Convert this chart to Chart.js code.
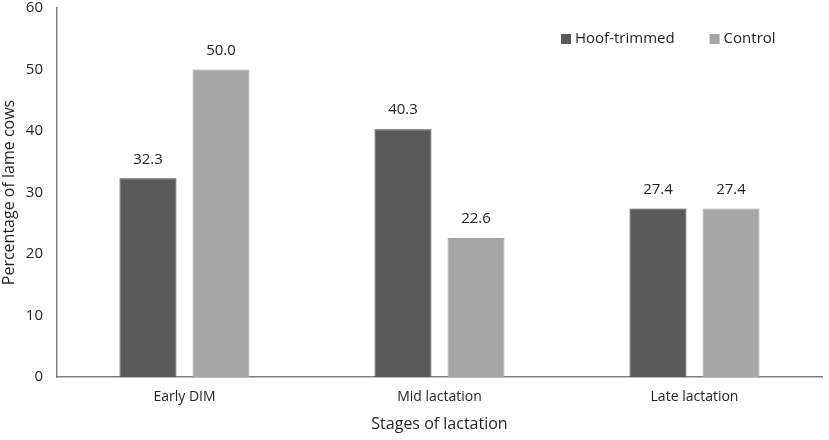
<!DOCTYPE html>
<html>
<head>
<meta charset="utf-8">
<script src="https://cdn.jsdelivr.net/npm/chart.js@4"></script>
<style>
  html, body { margin: 0; padding: 0; background: #fff; overflow: hidden; }
  #wrap { width: 829px; height: 455px; margin-top: -15px; }
</style>
</head>
<body>
<div id="wrap"><canvas id="chart"></canvas></div>
<script>
const stages = ["Early DIM", "Mid lactation", "Late lactation"];
const hoofTrimmed = [32.3, 40.3, 27.4];
const control = [50.0, 22.6, 27.4];
const yTicks = [0, 10, 20, 30, 40, 50, 60];

const FONT = "'Open Sans', 'Liberation Sans', sans-serif";
const DARK = "#595959";
const LIGHT = "#a6a6a6";

// value labels above each bar
const barLabels = {
  id: "barLabels",
  afterDatasetsDraw(chart) {
    const ctx = chart.ctx;
    ctx.save();
    ctx.font = "15px " + FONT;
    ctx.fillStyle = "#1f1f1f";
    ctx.textAlign = "center";
    ctx.textBaseline = "middle";
    chart.data.datasets.forEach((ds, i) => {
      chart.getDatasetMeta(i).data.forEach((bar, j) => {
        ctx.fillText(ds.data[j].toFixed(1), bar.x, bar.y - 19);
      });
    });
    ctx.restore();
  }
};

// legend in the top right corner of the plot
const cornerLegend = {
  id: "cornerLegend",
  afterDraw(chart) {
    const ctx = chart.ctx;
    ctx.save();
    ctx.font = "15px " + FONT;
    ctx.textBaseline = "middle";
    const y = chart.chartArea.top + 31;
    let x = 561;
    chart.data.datasets.forEach(ds => {
      ctx.fillStyle = ds.backgroundColor;
      ctx.fillRect(x, y - 5, 10, 10);
      ctx.fillStyle = "#1f1f1f";
      ctx.fillText(ds.label, x + 14, y);
      x += 14 + ctx.measureText(ds.label).width + 35;
    });
    ctx.restore();
  }
};

new Chart(document.getElementById("chart"), {
  type: "bar",
  data: {
    labels: stages,
    datasets: [
      { label: "Hoof-trimmed", data: hoofTrimmed, backgroundColor: DARK, borderColor: "#3f3f3f", borderWidth: 1 },
      { label: "Control", data: control, backgroundColor: LIGHT, borderColor: "#a0a0a0", borderWidth: 1 }
    ]
  },
  options: {
    responsive: true,
    maintainAspectRatio: false,
    animation: false,
    categoryPercentage: 0.573,
    barPercentage: 0.78,
    layout: { padding: { top: 0, right: 7, bottom: 6, left: 0 } },
    plugins: {
      legend: { display: false },
      tooltip: { enabled: false }
    },
    scales: {
      x: {
        afterFit(scale) { scale.height = 57; },
        grid: { display: false, drawTicks: false },
        border: { color: "#7f7f7f", width: 1.5 },
        ticks: { color: "#1f1f1f", font: { family: FONT, size: 14 }, padding: 12 },
        title: { display: true, text: "Stages of lactation", color: "#1f1f1f", font: { family: FONT, size: 16 }, padding: { top: 0, bottom: 0 } }
      },
      y: {
        min: 0,
        max: 60,
        afterBuildTicks(scale) { scale.ticks = yTicks.map(v => ({ value: v })); },
        afterFit(scale) { scale.width = 57; },
        grid: { display: false, drawTicks: false },
        border: { color: "#7f7f7f", width: 1.5 },
        ticks: { color: "#1f1f1f", font: { family: FONT, size: 15 }, padding: 14 },
        title: { display: true, text: "Percentage of lame cows", color: "#1f1f1f", font: { family: FONT, size: 16 }, padding: { top: 0, bottom: 0 } }
      }
    }
  },
  plugins: [barLabels, cornerLegend]
});
</script>
</body>
</html>
